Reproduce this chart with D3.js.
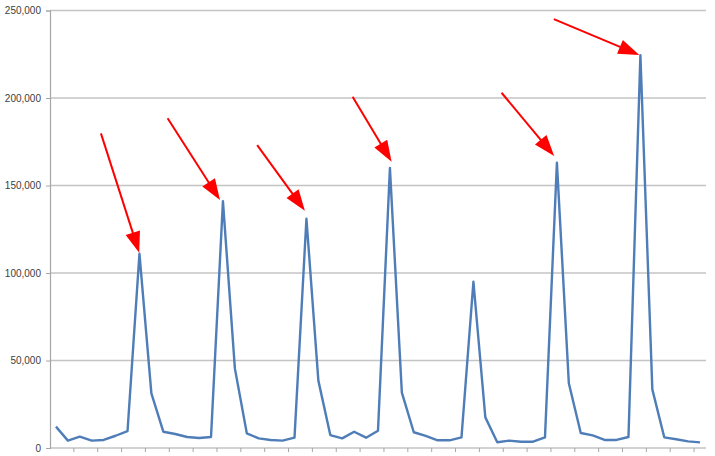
<!DOCTYPE html>
<html><head><meta charset="utf-8">
<script src="https://cdn.jsdelivr.net/npm/d3@7"></script>
<style>body{margin:0;background:#fff}svg{display:block}</style>
</head><body>
<script>
// Data
const values = [12200,4200,6500,4200,4600,7000,9700,111000,31200,9300,8000,6300,5700,6300,141000,45500,8400,5500,4600,4200,5900,131000,38500,7400,5500,9300,5900,9900,160000,31600,9000,6900,4400,4400,6100,95000,17500,3300,4200,3600,3600,6100,163000,37000,8600,7200,4600,4600,6300,224500,33500,6100,5000,3800,3200];
const categories = values.map((d,i)=>i+1);
const yTicks = [0,50000,100000,150000,200000,250000];
// arrows: [fromIndex, fromValue, toIndex, toValue]
const arrowFromIdx = [3.77, 9.36, 16.87, 24.87, 37.36, 41.74];
const arrowFromVal = [179800, 188400, 173100, 200700, 203000, 245100];
const arrowToIdx   = [6.98, 13.75, 20.87, 28.14, 41.77, 48.91];
const arrowToVal   = [111600, 141700, 135600, 163600, 166900, 224600];

const W=715,H=456, mLeft=50, mRight=706, mTop=10.5, mBottom=448;
const svg=d3.select("body").append("svg").attr("width",W).attr("height",H);

const x=d3.scaleBand().domain(categories).range([mLeft,mRight]).paddingInner(0).paddingOuter(0);
const y=d3.scaleLinear().domain([0,250000]).range([mBottom,mTop]);
const cx = i => x(categories[0]) + x.bandwidth()*(i+0.5);

// gridlines
svg.append("g").selectAll("line").data(yTicks.filter(d=>d>0)).join("line")
  .attr("x1",mLeft).attr("x2",mRight).attr("y1",d=>y(d)).attr("y2",d=>y(d))
  .attr("stroke","#c4c4c4").attr("stroke-width",1.5);

// y axis
const ya=svg.append("g").attr("transform",`translate(${mLeft},0)`)
  .call(d3.axisLeft(y).tickValues(yTicks).tickSize(4).tickPadding(5).tickFormat(d3.format(",")));
ya.select(".domain").attr("stroke","#a6a6a6").attr("stroke-width",1.2);
ya.selectAll(".tick line").attr("stroke","#a6a6a6");
ya.selectAll("text").attr("font-family","'Liberation Sans', Arial, sans-serif").attr("font-size",10).attr("fill","#404040");

// x axis with tick every 2 categories at band boundaries
const xa=svg.append("g").attr("transform",`translate(0,${mBottom})`);
xa.append("line").attr("x1",mLeft).attr("x2",mRight).attr("stroke","#a6a6a6").attr("stroke-width",1.2);
const tickCats = categories.filter((d,i)=>i%2===0 && i>0);
xa.selectAll("line.t").data(tickCats).join("line").attr("class","t")
  .attr("x1",d=>x(d)).attr("x2",d=>x(d)).attr("y1",0).attr("y2",4).attr("stroke","#a6a6a6");

// line
const line=d3.line().x((d,i)=>cx(i)).y(d=>y(d)).curve(d3.curveLinear);
svg.append("path").datum(values).attr("d",line).attr("fill","none")
  .attr("stroke","#4f7db8").attr("stroke-width",2.4).attr("stroke-linejoin","round");

// arrows
const ag=svg.append("g");
arrowFromIdx.forEach((fi,k)=>{
  const x1=cx(fi), y1=y(arrowFromVal[k]), x2=cx(arrowToIdx[k]), y2=y(arrowToVal[k]);
  const dx=x2-x1, dy=y2-y1, len=Math.hypot(dx,dy), ux=dx/len, uy=dy/len;
  const hl=21, hw=7.5;
  const bx=x2-ux*hl, by=y2-uy*hl;
  ag.append("line").attr("x1",x1).attr("y1",y1).attr("x2",bx+ux*2).attr("y2",by+uy*2)
    .attr("stroke","#ff0000").attr("stroke-width",2);
  ag.append("path").attr("d",`M${x2},${y2}L${bx-uy*hw},${by+ux*hw}L${bx+uy*hw},${by-ux*hw}Z`)
    .attr("fill","#ff0000");
});
</script>
</body></html>
